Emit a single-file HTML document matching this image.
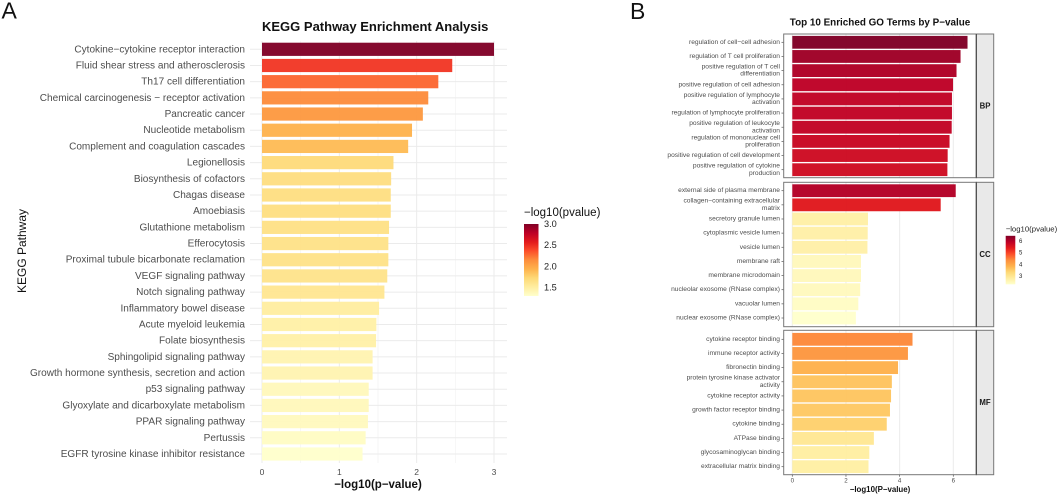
<!DOCTYPE html>
<html>
<head>
<meta charset="utf-8">
<title>KEGG and GO enrichment</title>
<style>
html,body{margin:0;padding:0;background:#fff;width:1059px;height:495px;overflow:hidden}
svg{display:block;font-family:"Liberation Sans",sans-serif;filter:blur(0.3px)}
</style>
</head>
<body>
<svg id="fig" xmlns="http://www.w3.org/2000/svg" width="1059" height="495" viewBox="0 0 1059 495"></svg>
<script>
const keggTerms = ["Cytokine\u2212cytokine receptor interaction","Fluid shear stress and atherosclerosis","Th17 cell differentiation","Chemical carcinogenesis \u2212 receptor activation","Pancreatic cancer","Nucleotide metabolism","Complement and coagulation cascades","Legionellosis","Biosynthesis of cofactors","Chagas disease","Amoebiasis","Glutathione metabolism","Efferocytosis","Proximal tubule bicarbonate reclamation","VEGF signaling pathway","Notch signaling pathway","Inflammatory bowel disease","Acute myeloid leukemia","Folate biosynthesis","Sphingolipid signaling pathway","Growth hormone synthesis, secretion and action","p53 signaling pathway","Glyoxylate and dicarboxylate metabolism","PPAR signaling pathway","Pertussis","EGFR tyrosine kinase inhibitor resistance"];
const keggValues = [3.0,2.46,2.28,2.15,2.08,1.94,1.89,1.70,1.67,1.665,1.665,1.643,1.634,1.634,1.62,1.583,1.514,1.479,1.475,1.43,1.43,1.38,1.38,1.37,1.34,1.30];
const keggXTicks = [0,1,2,3];
const keggLegendTicks = [3.0,2.5,2.0,1.5];

const bpTerms = [["regulation of cell\u2212cell adhesion"],["regulation of T cell proliferation"],["positive regulation of T cell","differentiation"],["positive regulation of cell adhesion"],["positive regulation of lymphocyte","activation"],["regulation of lymphocyte proliferation"],["positive regulation of leukocyte","activation"],["regulation of mononuclear cell","proliferation"],["positive regulation of cell development"],["positive regulation of cytokine","production"]];
const bpValues = [6.53,6.27,6.12,5.99,5.95,5.95,5.94,5.86,5.79,5.78];
const ccTerms = [["external side of plasma membrane"],["collagen\u2212containing extracellular","matrix"],["secretory granule lumen"],["cytoplasmic vesicle lumen"],["vesicle lumen"],["membrane raft"],["membrane microdomain"],["nucleolar exosome (RNase complex)"],["vacuolar lumen"],["nuclear exosome (RNase complex)"]];
const ccValues = [6.09,5.53,2.82,2.81,2.80,2.56,2.56,2.53,2.46,2.37];
const mfTerms = [["cytokine receptor binding"],["immune receptor activity"],["fibronectin binding"],["protein tyrosine kinase activator","activity"],["cytokine receptor activity"],["growth factor receptor binding"],["cytokine binding"],["ATPase binding"],["glycosaminoglycan binding"],["extracellular matrix binding"]];
const mfValues = [4.48,4.31,3.94,3.71,3.68,3.64,3.52,3.04,2.87,2.84];
const goXTicks = [0,2,4,6];
const goLegendTicks = [6,5,4,3];
const facetNames = ["BP","CC","MF"];

const svg = document.getElementById('fig');
const NS = 'http://www.w3.org/2000/svg';
function mk(tag, attrs, parent, txt){
  const el = document.createElementNS(NS, tag);
  for (const k in attrs) el.setAttribute(k, attrs[k]);
  if (txt !== undefined) el.textContent = txt;
  (parent || svg).appendChild(el);
  return el;
}
const ramp = [[255,255,204],[255,237,160],[254,217,118],[254,178,76],[253,141,60],[252,78,42],[227,26,28],[189,0,38],[128,0,38]];
function colorAt(t){
  const p = Math.max(0, Math.min(1, t)) * (ramp.length - 1);
  const i = Math.min(Math.floor(p), ramp.length - 2), f = p - i;
  const c = ramp[i].map((v, j) => Math.round(v + (ramp[i + 1][j] - v) * f));
  return 'rgb(' + c.join(',') + ')';
}
function legendGradient(id){
  const defs = mk('defs', {});
  const g = mk('linearGradient', {id: id, x1: 0, y1: 1, x2: 0, y2: 0}, defs);
  ramp.forEach((c, i) => mk('stop', {offset: i / (ramp.length - 1), 'stop-color': 'rgb(' + c.join(',') + ')'}, g));
}
function linear(d0, d1, r0, r1){ return v => r0 + (v - d0) / (d1 - d0) * (r1 - r0); }

/* ---------- Panel letters ---------- */
let t;
t = mk('text', {x: 1.5, y: 18.5, 'font-size': 23, fill: '#111'}, svg, 'A');


t = mk('text', {x: 630, y: 19, 'font-size': 23, fill: '#111'}, svg, 'B');



/* ---------- Chart A ---------- */
const ax = linear(0, 3, 262, 494);
const ay = linear(0, keggTerms.length - 1, 49.3, 454);
const aMin = Math.min(...keggValues), aMax = Math.max(...keggValues);
const aGroup = mk('g', {});


const aPanelTop = 41, aPanelBottom = 463, aPanelLeft = 250, aPanelRight = 507;
[0.5, 1.5, 2.5].forEach(v => {
  const l = mk('line', {x1: ax(v), x2: ax(v), y1: aPanelTop, y2: aPanelBottom, stroke: '#f3f3f3', 'stroke-width': 0.7}, aGroup);
  
  
});
keggXTicks.forEach(v => {
  const l = mk('line', {x1: ax(v), x2: ax(v), y1: aPanelTop, y2: aPanelBottom, stroke: '#ebebeb', 'stroke-width': 1}, aGroup);
  
  
  const lab = mk('text', {x: ax(v), y: 472, 'font-size': 8.5, fill: '#4d4d4d', 'text-anchor': 'middle', 'dominant-baseline': 'central'}, aGroup, String(v));
  
  
});
keggTerms.forEach((name, i) => {
  const y = ay(i);
  const g = mk('line', {x1: aPanelLeft, x2: aPanelRight, y1: y, y2: y, stroke: '#ebebeb', 'stroke-width': 1}, aGroup);
  
  
  const b = mk('rect', {x: ax(0), y: y - 6.6, width: ax(keggValues[i]) - ax(0), height: 13.2, fill: colorAt((keggValues[i] - aMin) / (aMax - aMin)), 'fill-opacity': 0.96}, aGroup);
  
  
  const lab = mk('text', {x: 245, y: y + 0.5, 'font-size': 10.05, fill: '#4d4d4d', 'text-anchor': 'end', 'dominant-baseline': 'central'}, aGroup, name);
  
  
});
t = mk('text', {x: 262, y: 31, 'font-size': 13, 'font-weight': 'bold', fill: '#111'}, aGroup, 'KEGG Pathway Enrichment Analysis');


t = mk('text', {x: 378, y: 485, 'font-size': 11.5, 'font-weight': 'bold', fill: '#111', 'text-anchor': 'middle', 'dominant-baseline': 'central'}, aGroup, '\u2212log10(p\u2212value)');


t = mk('text', {transform: 'translate(22,251) rotate(-90)', 'font-size': 12, fill: '#111', 'text-anchor': 'middle', 'dominant-baseline': 'central'}, aGroup, 'KEGG Pathway');



/* Legend A */
legendGradient('gradA');
const aLegY = linear(aMin, aMax, 296, 224);
t = mk('text', {x: 524, y: 213, 'font-size': 11.5, fill: '#111', 'dominant-baseline': 'central'}, aGroup, '\u2212log10(pvalue)');


t = mk('rect', {x: 524, y: aLegY(aMax), width: 14.5, height: aLegY(aMin) - aLegY(aMax), fill: 'url(#gradA)'}, aGroup);


keggLegendTicks.forEach(v => {
  const lab = mk('text', {x: 544, y: aLegY(v), 'font-size': 9.2, fill: '#222', 'dominant-baseline': 'central'}, aGroup, v.toFixed(1));
  
  
});

/* ---------- Chart B ---------- */
const bx = linear(0, 6, 792.3, 953.3);
const allGo = bpValues.concat(ccValues, mfValues);
const bMin = Math.min(...allGo), bMax = Math.max(...allGo);
const bGroup = mk('g', {});


const panelL = 783.7, panelR = 976.3, stripR = 993.7;

function facet(idx, terms, values, top, bottom, first, last){
  const fy = linear(0, terms.length - 1, first, last);
  const g = mk('g', {}, bGroup);
  
  
  const strip = mk('rect', {x: panelR, y: top, width: stripR - panelR, height: bottom - top, fill: '#e9e9e9', stroke: '#777', 'stroke-width': 1}, g);
  
  
  const stripText = mk('text', {x: (panelR + stripR) / 2, y: (top + bottom) / 2, 'font-size': 7.8, 'font-weight': 'bold', fill: '#1a1a1a', 'text-anchor': 'middle', 'dominant-baseline': 'central'}, g, facetNames[idx]);
  
  
  goXTicks.forEach(v => {
    const l = mk('line', {x1: bx(v), x2: bx(v), y1: top, y2: bottom, stroke: '#ebebeb', 'stroke-width': 1}, g);
    
    
  });
  terms.forEach((lines, i) => {
    const y = fy(i);
    const b = mk('rect', {x: bx(0), y: y - 6.4, width: bx(values[i]) - bx(0), height: 12.8, fill: colorAt((values[i] - bMin) / (bMax - bMin)), 'fill-opacity': 0.97}, g);
    
    
    const tk = mk('line', {x1: panelL - 2.2, x2: panelL, y1: y, y2: y, stroke: '#555', 'stroke-width': 0.7}, g);
    
    
    lines.forEach((ln, k) => {
      const off = (k - (lines.length - 1) / 2) * 7.2;
      const lab = mk('text', {x: 780, y: y + off, 'font-size': 6.65, fill: '#4d4d4d', 'text-anchor': 'end', 'dominant-baseline': 'central'}, g, ln);
      
      
    });
  });
  const border = mk('rect', {x: panelL, y: top, width: panelR - panelL, height: bottom - top, fill: 'none', stroke: '#777', 'stroke-width': 1}, g);
  
  
  const divider = mk('line', {x1: panelR, x2: panelR, y1: top, y2: bottom, stroke: '#444', 'stroke-width': 1}, g);
  
  
}
facet(0, bpTerms, bpValues, 34, 177.7, 42.3, 169.7);
facet(1, ccTerms, ccValues, 182.3, 326.7, 190.7, 318);
facet(2, mfTerms, mfValues, 330.3, 474.7, 339.3, 466.7);

goXTicks.forEach(v => {
  const tk = mk('line', {x1: bx(v), x2: bx(v), y1: 474.7, y2: 476.7, stroke: '#555', 'stroke-width': 0.7}, bGroup);
  
  
  const lab = mk('text', {x: bx(v), y: 481, 'font-size': 6.2, fill: '#4d4d4d', 'text-anchor': 'middle', 'dominant-baseline': 'central'}, bGroup, String(v));
  
  
});
t = mk('text', {x: 880, y: 489.5, 'font-size': 7.9, 'font-weight': 'bold', fill: '#111', 'text-anchor': 'middle', 'dominant-baseline': 'central'}, bGroup, '\u2212log10(P\u2212value)');


t = mk('text', {x: 880, y: 23, 'font-size': 9.9, 'font-weight': 'bold', fill: '#111', 'text-anchor': 'middle', 'dominant-baseline': 'central'}, bGroup, 'Top 10 Enriched GO Terms by P\u2212value');



/* Legend B */
legendGradient('gradB');
const bLegY = linear(6, 3, 242, 277);
t = mk('text', {x: 1005.7, y: 229, 'font-size': 7.75, fill: '#222', 'dominant-baseline': 'central'}, bGroup, '\u2212log10(pvalue)');


t = mk('rect', {x: 1005.7, y: bLegY(bMax), width: 9.6, height: bLegY(bMin) - bLegY(bMax), fill: 'url(#gradB)'}, bGroup);


goLegendTicks.forEach(v => {
  const lab = mk('text', {x: 1019, y: bLegY(v), 'font-size': 6, fill: '#222', 'dominant-baseline': 'central'}, bGroup, String(v));
  
  
});
</script>
</body>
</html>
